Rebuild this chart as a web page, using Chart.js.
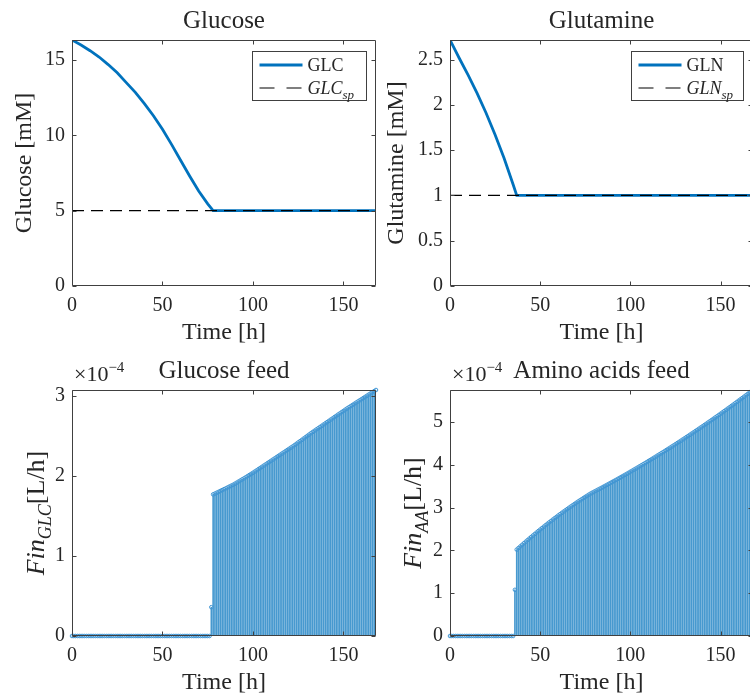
<!DOCTYPE html>
<html>
<head>
<meta charset="utf-8">
<title>Fed-batch run</title>
<script src="https://cdn.jsdelivr.net/npm/chart.js@4/dist/chart.umd.min.js"></script>
<style>
  html, body { margin: 0; padding: 0; background: #fff; overflow: hidden; }
  #page { position: relative; width: 750px; height: 698px; overflow: hidden; background: #fff; }
  canvas { position: absolute; }
</style>
</head>
<body>
<div id="page">
  <canvas id="glc"></canvas>
  <canvas id="gln"></canvas>
  <canvas id="glcFeed"></canvas>
  <canvas id="aaFeed"></canvas>
</div>
<script>
// concentrations (time in h, mM)
const glcTime = [0, 5, 10, 15, 20, 25, 30, 35, 40, 45, 50, 55, 60, 65, 70, 75, 78, 168]
const glcConc = [16.33, 16.0, 15.62, 15.2, 14.7, 14.15, 13.5, 12.85, 12.1, 11.3, 10.4, 9.4, 8.35, 7.3, 6.3, 5.45, 5.0, 5.0]
const GLC_SP = 5

const glnTime = [0, 5, 10, 15, 20, 25, 30, 35, 37, 168]
const glnConc = [2.716, 2.52, 2.33, 2.13, 1.91, 1.67, 1.41, 1.12, 1.0, 1.0]
const GLN_SP = 1

// hourly feed rates, in units of 1e-4 L/h
const feedHours = [
  0, 1, 2, 3, 4, 5, 6, 7, 8, 9, 10, 11, 12, 13, 14, 15, 16, 17, 18, 19,
  20, 21, 22, 23, 24, 25, 26, 27, 28, 29, 30, 31, 32, 33, 34, 35, 36, 37, 38, 39,
  40, 41, 42, 43, 44, 45, 46, 47, 48, 49, 50, 51, 52, 53, 54, 55, 56, 57, 58, 59,
  60, 61, 62, 63, 64, 65, 66, 67, 68, 69, 70, 71, 72, 73, 74, 75, 76, 77, 78, 79,
  80, 81, 82, 83, 84, 85, 86, 87, 88, 89, 90, 91, 92, 93, 94, 95, 96, 97, 98, 99,
  100, 101, 102, 103, 104, 105, 106, 107, 108, 109, 110, 111, 112, 113, 114, 115, 116, 117, 118, 119,
  120, 121, 122, 123, 124, 125, 126, 127, 128, 129, 130, 131, 132, 133, 134, 135, 136, 137, 138, 139,
  140, 141, 142, 143, 144, 145, 146, 147, 148, 149, 150, 151, 152, 153, 154, 155, 156, 157, 158, 159,
  160, 161, 162, 163, 164, 165, 166, 167, 168
]

const glcFeed = [
  0, 0, 0, 0, 0, 0, 0, 0, 0, 0, 0,
  0, 0, 0, 0, 0, 0, 0, 0, 0, 0, 0,
  0, 0, 0, 0, 0, 0, 0, 0, 0, 0, 0,
  0, 0, 0, 0, 0, 0, 0, 0, 0, 0, 0,
  0, 0, 0, 0, 0, 0, 0, 0, 0, 0, 0,
  0, 0, 0, 0, 0, 0, 0, 0, 0, 0, 0,
  0, 0, 0, 0, 0, 0, 0, 0, 0, 0, 0,
  0.36,
  1.770, 1.780, 1.791, 1.802, 1.813, 1.824, 1.835, 1.846, 1.857, 1.868,
  1.879, 1.890, 1.903, 1.916, 1.930, 1.943, 1.957, 1.970, 1.984, 1.998,
  2.012, 2.026, 2.040, 2.055, 2.070, 2.085, 2.100, 2.115, 2.130, 2.145,
  2.160, 2.175, 2.190, 2.205, 2.220, 2.235, 2.250, 2.265, 2.280, 2.295,
  2.310, 2.325, 2.340, 2.355, 2.370, 2.386, 2.402, 2.419, 2.435, 2.451,
  2.468, 2.484, 2.501, 2.517, 2.534, 2.550, 2.565, 2.581, 2.596, 2.612,
  2.627, 2.643, 2.658, 2.674, 2.689, 2.705, 2.720, 2.736, 2.751, 2.767,
  2.782, 2.798, 2.813, 2.829, 2.844, 2.859, 2.873, 2.888, 2.902, 2.917,
  2.931, 2.946, 2.960, 2.974, 2.989, 3.003, 3.018, 3.032, 3.046, 3.061,
  3.075
]

const aaFeed = [
  0, 0, 0, 0, 0, 0, 0, 0, 0, 0, 0, 0,
  0, 0, 0, 0, 0, 0, 0, 0, 0, 0, 0, 0,
  0, 0, 0, 0, 0, 0, 0, 0, 0, 0, 0, 0,
  1.08,
  2.020, 2.058, 2.095, 2.133, 2.170, 2.206, 2.243, 2.279, 2.315, 2.350,
  2.385, 2.420, 2.455, 2.489, 2.523, 2.557, 2.591, 2.624, 2.657, 2.689,
  2.722, 2.754, 2.785, 2.817, 2.848, 2.879, 2.909, 2.939, 2.969, 2.999,
  3.028, 3.057, 3.086, 3.115, 3.143, 3.171, 3.198, 3.226, 3.253, 3.279,
  3.306, 3.332,
  3.354, 3.376, 3.398, 3.421, 3.443, 3.465, 3.488, 3.511, 3.534, 3.557,
  3.580, 3.603, 3.626, 3.649, 3.673, 3.697, 3.720, 3.744, 3.768, 3.792,
  3.816, 3.841, 3.865, 3.890, 3.914, 3.939, 3.964, 3.989, 4.014, 4.039,
  4.064, 4.090, 4.115, 4.141, 4.167, 4.192, 4.219, 4.245, 4.271, 4.297,
  4.323, 4.350, 4.376, 4.403, 4.430, 4.457, 4.484, 4.511, 4.539, 4.566,
  4.594, 4.621, 4.649, 4.677, 4.705, 4.733, 4.761, 4.789, 4.818, 4.846,
  4.875, 4.903, 4.932, 4.961, 4.990, 5.020, 5.049, 5.078, 5.108, 5.137,
  5.167, 5.197, 5.227, 5.257, 5.287, 5.318, 5.348, 5.379, 5.409, 5.440,
  5.471, 5.502, 5.533, 5.564, 5.595, 5.627, 5.658, 5.690, 5.722, 5.753
]

const T_END = 168

const SERIF = "'Liberation Serif', 'Times New Roman', serif"
const INK = '#262626'
const BLUE = '#0072BD'

// every canvas keeps the same margins round its plot area
const PAD_LEFT = 72, PAD_TOP = 40, PAD_RIGHT = 4, PAD_BOTTOM = 64

function place(canvas, box) {
    canvas.width = box.r - box.l + PAD_LEFT + PAD_RIGHT
    canvas.height = box.b - box.t + PAD_TOP + PAD_BOTTOM
    canvas.style.left = (box.l - PAD_LEFT) + 'px'
    canvas.style.top = (box.t - PAD_TOP) + 'px'
}

function points(xs, ys) {
    return xs.map((x, i) => ({ x: x, y: ys[i] }))
}

// text with italic / subscript / superscript runs
function drawRich(ctx, parts, x, y, size, align) {
    const fontOf = p => (p.italic ? 'italic ' : '') + ((p.sub || p.sup) ? Math.round(size * 0.7) : size) + 'px ' + SERIF
    let total = 0
    parts.forEach(p => { ctx.font = fontOf(p); total += ctx.measureText(p.text).width })
    let cx = align === 'center' ? x - total / 2 : x
    ctx.textAlign = 'left'
    ctx.textBaseline = 'alphabetic'
    ctx.fillStyle = INK
    parts.forEach(p => {
        ctx.font = fontOf(p)
        const dy = p.sub ? size * 0.28 : (p.sup ? -size * 0.42 : 0)
        ctx.fillText(p.text, cx, y + dy)
        cx += ctx.measureText(p.text).width
    })
}

// box round the plot area with inward ticks on all four sides
const frame = {
    id: 'frame',
    afterDatasetsDraw(chart) {
        const { ctx, chartArea: a, scales: { x, y } } = chart
        const L = a.left + 0.5, R = a.right - 0.5, T = a.top + 0.5, B = a.bottom - 0.5
        ctx.save()
        ctx.strokeStyle = '#404040'
        ctx.lineWidth = 1
        ctx.beginPath()
        ctx.rect(L, T, R - L, B - T)
        x.ticks.forEach(t => {
            const px = Math.round(x.getPixelForValue(t.value)) + 0.5
            ctx.moveTo(px, B); ctx.lineTo(px, B - 4)
            ctx.moveTo(px, T); ctx.lineTo(px, T + 4)
        })
        y.ticks.forEach(t => {
            const py = Math.round(y.getPixelForValue(t.value)) + 0.5
            ctx.moveTo(L, py); ctx.lineTo(L + 4, py)
            ctx.moveTo(R, py); ctx.lineTo(R - 4, py)
        })
        ctx.stroke()
        ctx.restore()
    }
}

// legend box in the upper right corner of the plot
const boxLegend = {
    id: 'boxLegend',
    afterDatasetsDraw(chart, args, opts) {
        if (!opts.items) return
        const { ctx, chartArea: a } = chart
        const w = opts.width, h = 49
        const left = Math.round(a.right - 10 - w) + 0.5, top = a.top + 11.5
        ctx.save()
        ctx.fillStyle = '#fff'
        ctx.fillRect(left, top, w, h)
        ctx.strokeStyle = '#404040'
        ctx.lineWidth = 1
        ctx.strokeRect(left, top, w, h)
        opts.items.forEach((item, i) => {
            const ds = chart.data.datasets[item.dataset]
            const cy = top + 13.5 + i * 23
            ctx.beginPath()
            ctx.strokeStyle = ds.borderColor
            ctx.lineWidth = ds.borderWidth
            ctx.setLineDash(ds.borderDash ? [15, 12] : [])
            ctx.moveTo(left + 7, cy)
            ctx.lineTo(left + 50, cy)
            ctx.stroke()
            ctx.setLineDash([])
            drawRich(ctx, item.parts, left + 55, cy + 6, 18, 'left')
        })
        ctx.restore()
    }
}

// rotated y label with a subscript, plus the x10^-4 multiplier
const feedLabels = {
    id: 'feedLabels',
    afterDraw(chart, args, opts) {
        if (!opts.yParts) return
        const { ctx, chartArea: a } = chart
        ctx.save()
        ctx.translate(opts.yBase, (a.top + a.bottom) / 2)
        ctx.rotate(-Math.PI / 2)
        drawRich(ctx, opts.yParts, 0, 0, 26, 'center')
        ctx.restore()
        ctx.save()
        drawRich(ctx, [{ text: '×10' }, { text: '−4', sup: true }], a.left + 2, a.top - 9, 22, 'left')
        ctx.restore()
    }
}

const tickFont = { family: SERIF, size: 20 }
const labelFont = { family: SERIF, size: 24 }
const plainNumber = v => String(Math.round(v * 1000) / 1000)

function xAxis() {
    return {
        type: 'linear', min: 0, max: T_END, offset: false,
        grid: { display: false, drawTicks: false, offset: false },
        border: { display: false },
        ticks: { stepSize: 50, includeBounds: false, padding: 8, maxRotation: 0, color: INK, font: tickFont, callback: plainNumber },
        title: { display: true, text: 'Time [h]', color: INK, font: labelFont, padding: { top: 0, bottom: 2.6 } },
        afterFit: s => { s.height = PAD_BOTTOM }
    }
}

function yAxis(max, step, title, titlePad) {
    return {
        type: 'linear', min: 0, max: max,
        grid: { display: false, drawTicks: false },
        border: { display: false },
        ticks: { stepSize: step, includeBounds: false, padding: 7, color: INK, font: tickFont, callback: plainNumber },
        title: title
            ? { display: true, text: title, color: INK, font: labelFont, padding: { top: titlePad, bottom: 0 } }
            : { display: false },
        afterFit: s => { s.width = PAD_LEFT }
    }
}

function plotTitle(text) {
    return {
        display: true, text: text, color: INK, fullSize: false,
        font: { family: SERIF, size: 25, weight: 'normal' },
        padding: { top: 6.5, bottom: 3.5 }
    }
}

const common = {
    responsive: false,
    animation: false,
    events: [],
    layout: { padding: { left: 0, top: 0, right: PAD_RIGHT, bottom: 0 }, autoPadding: false }
}

function concChart(id, box, title, yTitle, titlePad, xs, ys, sp, step, names) {
    const canvas = document.getElementById(id)
    place(canvas, box)
    return new Chart(canvas, {
        type: 'line',
        data: {
            datasets: [
                { data: points(xs, ys), borderColor: BLUE, borderWidth: 2.8, pointRadius: 0, tension: 0, order: 1 },
                { data: [{ x: 0, y: sp }, { x: T_END, y: sp }], borderColor: '#000', borderWidth: 1.2,
                  borderDash: [12, 7], pointRadius: 0, order: 0 }
            ]
        },
        options: Object.assign({}, common, {
            scales: { x: xAxis(), y: yAxis(Math.max(...ys), step, yTitle, titlePad) },
            plugins: {
                legend: { display: false },
                tooltip: { enabled: false },
                title: plotTitle(title),
                boxLegend: {
                    width: names.width,
                    items: [
                        { dataset: 0, parts: [{ text: names.main }] },
                        { dataset: 1, parts: [{ text: names.main, italic: true }, { text: 'sp', italic: true, sub: true }] }
                    ]
                }
            }
        }),
        plugins: [frame, boxLegend]
    })
}

function feedChart(id, box, title, rates, sub, yBase) {
    const canvas = document.getElementById(id)
    place(canvas, box)
    const data = points(feedHours, rates)
    return new Chart(canvas, {
        type: 'bar',
        data: {
            datasets: [
                { type: 'bar', data: data, backgroundColor: 'rgba(0,114,189,0.72)', barThickness: 1, borderWidth: 0, order: 2 },
                { type: 'line', data: data, showLine: false, pointRadius: 1.8, pointBorderWidth: 1, clip: false,
                  pointBorderColor: '#4095d3', pointBackgroundColor: 'rgba(255,255,255,0)', order: 1 }
            ]
        },
        options: Object.assign({}, common, {
            scales: { x: xAxis(), y: yAxis(Math.max(...rates), 1, null, 0) },
            plugins: {
                legend: { display: false },
                tooltip: { enabled: false },
                title: plotTitle(title),
                feedLabels: {
                    yBase: yBase,
                    yParts: [{ text: 'Fin', italic: true }, { text: sub, italic: true, sub: true }, { text: '[L/h]' }]
                }
            }
        }),
        plugins: [frame, feedLabels]
    })
}

concChart('glc', { l: 72, t: 40, r: 376, b: 286 }, 'Glucose', 'Glucose [mM]', 10.7,
    glcTime, glcConc, GLC_SP, 5, { main: 'GLC', width: 114 })
concChart('gln', { l: 450, t: 40, r: 753, b: 286 }, 'Glutamine', 'Glutamine [mM]', 4,
    glnTime, glnConc, GLN_SP, 0.5, { main: 'GLN', width: 112 })
feedChart('glcFeed', { l: 72, t: 390, r: 376, b: 636 }, 'Glucose feed', glcFeed, 'GLC', 44)
feedChart('aaFeed', { l: 450, t: 390, r: 753, b: 636 }, 'Amino acids feed', aaFeed, 'AA', 43)
</script>
</body>
</html>
